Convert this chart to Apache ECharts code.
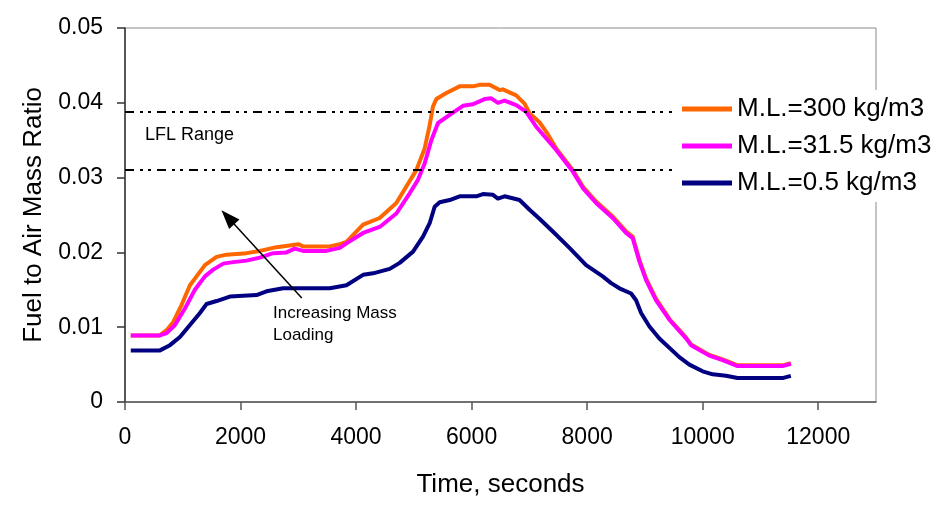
<!DOCTYPE html>
<html>
<head>
<meta charset="utf-8">
<title>Fuel to Air Mass Ratio vs Time</title>
<script src="https://cdn.jsdelivr.net/npm/echarts@6/dist/echarts.min.js"></script>
<style>
  html, body { margin: 0; padding: 0; background: #fff; }
  #chart { width: 948px; height: 508px; }
</style>
</head>
<body>
<div id="chart"></div>
<script>
// Mass loading 300 kg/m3
const timeHigh = [100, 600, 721, 836, 980, 1124, 1239, 1383, 1585, 1758, 2104, 2334, 2623, 2910, 2997, 3083, 3545, 3718, 3833, 4121, 4409, 4697, 4870, 5043, 5187, 5274, 5331, 5389, 5562, 5792, 6023, 6138, 6311, 6484, 6541, 6772, 6916, 7003, 7175, 7319, 7464, 7752, 7925, 8155, 8443, 8674, 8789, 8904, 9020, 9193, 9423, 9596, 9712, 9798, 10115, 10345, 10604, 11382, 11526];
const ratioHigh = [0.0089, 0.0089, 0.0096, 0.0107, 0.0130, 0.0156, 0.0168, 0.0183, 0.0194, 0.0197, 0.0199, 0.0202, 0.0207, 0.0210, 0.0211, 0.0208, 0.0208, 0.0211, 0.0214, 0.0237, 0.0246, 0.0266, 0.0288, 0.0310, 0.0339, 0.0370, 0.0395, 0.0405, 0.0413, 0.0422, 0.0422, 0.0424, 0.0424, 0.0417, 0.0418, 0.0410, 0.0399, 0.0386, 0.0374, 0.0358, 0.0339, 0.0310, 0.0288, 0.0268, 0.0248, 0.0228, 0.0221, 0.0190, 0.0165, 0.0138, 0.0111, 0.0096, 0.0086, 0.0077, 0.0063, 0.0057, 0.0049, 0.0049, 0.0052];

// Mass loading 31.5 kg/m3
const timeMid = [100, 605, 721, 865, 1037, 1210, 1383, 1527, 1700, 1873, 2104, 2334, 2564, 2795, 2939, 3083, 3487, 3718, 3833, 4121, 4409, 4697, 4928, 5071, 5187, 5303, 5418, 5620, 5850, 6023, 6225, 6340, 6455, 6570, 6772, 6945, 7118, 7319, 7464, 7752, 7925, 8155, 8443, 8674, 8789, 8904, 9020, 9193, 9423, 9596, 9712, 9798, 10115, 10345, 10604, 11382, 11526];
const ratioMid = [0.0089, 0.0089, 0.0092, 0.0103, 0.0125, 0.0150, 0.0168, 0.0177, 0.0185, 0.0187, 0.0189, 0.0193, 0.0199, 0.0200, 0.0205, 0.0202, 0.0202, 0.0206, 0.0212, 0.0226, 0.0234, 0.0252, 0.0279, 0.0297, 0.0319, 0.0350, 0.0373, 0.0384, 0.0396, 0.0398, 0.0405, 0.0406, 0.0400, 0.0403, 0.0397, 0.0388, 0.0368, 0.0350, 0.0337, 0.0308, 0.0286, 0.0266, 0.0246, 0.0226, 0.0219, 0.0188, 0.0163, 0.0136, 0.0110, 0.0095, 0.0085, 0.0076, 0.0062, 0.0056, 0.0048, 0.0048, 0.0051];

// Mass loading 0.5 kg/m3
const timeLow = [100, 605, 778, 951, 1124, 1297, 1412, 1585, 1815, 2046, 2277, 2450, 2738, 3083, 3545, 3833, 4121, 4294, 4582, 4755, 4986, 5158, 5274, 5360, 5447, 5620, 5792, 6081, 6196, 6369, 6455, 6570, 6830, 7003, 7175, 7406, 7694, 7982, 8270, 8415, 8559, 8761, 8847, 8934, 9078, 9250, 9596, 9769, 9999, 10172, 10403, 10604, 11382, 11526];
const ratioLow = [0.0069, 0.0069, 0.0076, 0.0087, 0.0103, 0.0119, 0.0131, 0.0135, 0.0141, 0.0142, 0.0143, 0.0148, 0.0152, 0.0152, 0.0152, 0.0156, 0.0170, 0.0172, 0.0178, 0.0186, 0.0201, 0.0221, 0.0239, 0.0261, 0.0267, 0.0270, 0.0275, 0.0275, 0.0278, 0.0277, 0.0272, 0.0275, 0.0270, 0.0257, 0.0245, 0.0228, 0.0206, 0.0183, 0.0168, 0.0159, 0.0152, 0.0145, 0.0136, 0.0119, 0.0101, 0.0085, 0.0060, 0.0050, 0.0041, 0.0037, 0.0035, 0.0032, 0.0032, 0.0035];

const seriesNames = ['M.L.=300 kg/m3', 'M.L.=31.5 kg/m3', 'M.L.=0.5 kg/m3'];
const seriesColors = ['#FF6600', '#FF00FF', '#000080'];

// Lower / upper flammability limits and their horizontal extent
const lflLower = 0.031;
const lflUpper = 0.0388;
const lflSpan = [0, 13000];

// Arrow pointing towards higher loading (time, ratio)
const arrowFrom = [3060, 0.0139];
const arrowTo = [1781, 0.0247];

const xTicks = [0, 2000, 4000, 6000, 8000, 10000, 12000];

const FONT = '"Liberation Sans", Arial, Helvetica, sans-serif';

function pairs(t, r) {
  return t.map((v, i) => [v, r[i]]);
}

const chart = echarts.init(document.getElementById('chart'), null, { renderer: 'canvas' });

const dashStyle = { color: '#000', width: 2, type: [9, 6, 3, 5, 3, 6] };

const option = {
  animation: false,
  backgroundColor: '#fff',
  textStyle: { fontFamily: FONT },
  grid: {
    left: 125, top: 28, right: 72, bottom: 106,
    show: true, borderColor: '#8a8a8a', borderWidth: 1, backgroundColor: 'transparent'
  },
  legend: {
    data: seriesNames,
    orient: 'vertical',
    left: 672,
    top: 90,
    z: 50,
    padding: [6, 14, 6, 10],
    itemGap: 11,
    itemWidth: 50,
    itemHeight: 5,
    icon: 'rect',
    backgroundColor: '#fff',
    selectedMode: false,
    textStyle: { fontSize: 26, color: '#000', fontFamily: FONT }
  },
  xAxis: {
    type: 'value',
    min: 0,
    max: 13000,
    interval: 2000,
    name: 'Time, seconds',
    nameLocation: 'middle',
    nameGap: 70,
    nameTextStyle: { fontSize: 26, color: '#000', fontFamily: FONT },
    axisLine: { show: true, lineStyle: { color: '#555', width: 1.5 } },
    axisTick: { show: true, length: 8, lineStyle: { color: '#555', width: 1.5 }, customValues: xTicks },
    axisLabel: {
      fontSize: 23, color: '#000', margin: 24, fontFamily: FONT, customValues: xTicks,
      formatter: (v) => String(v)
    },
    splitLine: { show: false }
  },
  yAxis: {
    type: 'value',
    min: 0,
    max: 0.05,
    interval: 0.01,
    name: 'Fuel to Air Mass Ratio',
    nameLocation: 'middle',
    nameGap: 78,
    nameTextStyle: { fontSize: 26, color: '#000', fontFamily: FONT },
    axisLine: { show: true, lineStyle: { color: '#333', width: 1.5 } },
    axisTick: { show: true, length: 8, lineStyle: { color: '#333', width: 1.5 } },
    axisLabel: { fontSize: 23, color: '#000', margin: 22, fontFamily: FONT },
    splitLine: { show: false }
  },
  series: [
    {
      name: seriesNames[0], type: 'line', data: pairs(timeHigh, ratioHigh),
      symbol: 'none', color: seriesColors[0],
      lineStyle: { width: 4, color: seriesColors[0], join: 'round' },
      emphasis: { disabled: true }, z: 2
    },
    {
      name: seriesNames[1], type: 'line', data: pairs(timeMid, ratioMid),
      symbol: 'none', color: seriesColors[1],
      lineStyle: { width: 4, color: seriesColors[1], join: 'round' },
      emphasis: { disabled: true }, z: 3
    },
    {
      name: seriesNames[2], type: 'line', data: pairs(timeLow, ratioLow),
      symbol: 'none', color: seriesColors[2],
      lineStyle: { width: 4, color: seriesColors[2], join: 'round' },
      emphasis: { disabled: true }, z: 3,
      markLine: {
        silent: true,
        symbol: ['none', 'none'],
        label: { show: false },
        emphasis: { disabled: true },
        data: [
          [{ coord: [lflSpan[0], lflUpper], lineStyle: dashStyle }, { coord: [lflSpan[1], lflUpper] }],
          [{ coord: [lflSpan[0], lflLower], lineStyle: dashStyle }, { coord: [lflSpan[1], lflLower] }],
          [{ coord: arrowFrom, symbol: 'none', lineStyle: { color: '#000', width: 1.5, type: 'solid' } },
           { coord: arrowTo, symbol: 'triangle', symbolSize: [14, 19] }]
        ]
      }
    }
  ],
  graphic: [
    {
      type: 'text', left: 145, top: 126, silent: true,
      style: { text: 'LFL Range', font: '18px ' + FONT, fill: '#000' }
    },
    {
      type: 'text', left: 273, top: 302, silent: true,
      style: { text: 'Increasing Mass\nLoading', font: '17px ' + FONT, fill: '#000', lineHeight: 22 }
    }
  ]
};

chart.setOption(option);
</script>
</body>
</html>
